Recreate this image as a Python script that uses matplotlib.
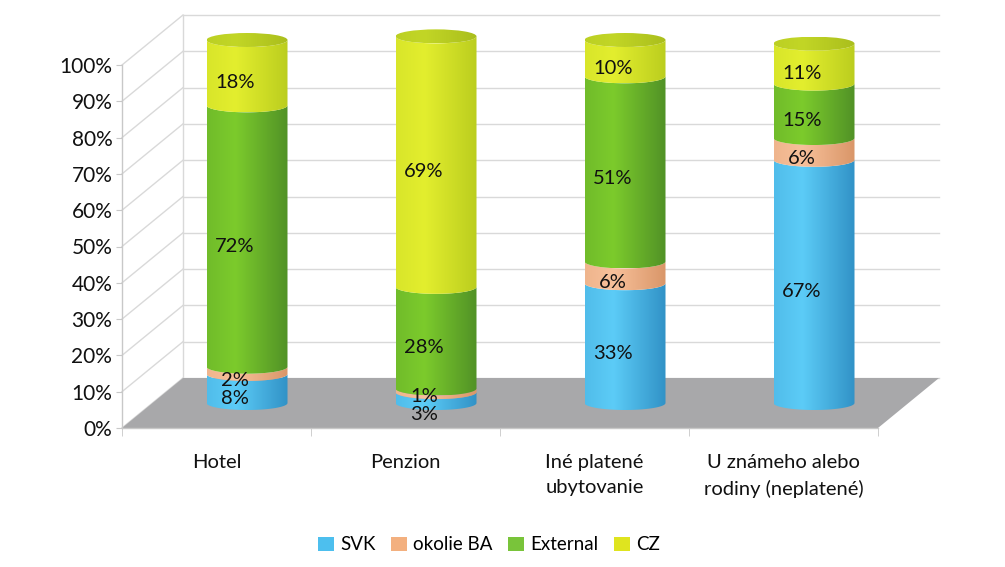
import numpy as np
import matplotlib
matplotlib.use("Agg")
import matplotlib.pyplot as plt
from matplotlib.patches import Polygon, Rectangle, Ellipse
from matplotlib.colors import to_rgb

plt.rcParams['font.family'] = ['Lato', 'DejaVu Sans']

categories = ["Hotel", "Penzion", "Iné platené\nubytovanie", "U známeho alebo\nrodiny (neplatené)"]
series_names = ["SVK", "okolie BA", "External", "CZ"]
svk = [8, 3, 33, 67]
okolie_ba = [2, 1, 6, 6]
external = [72, 28, 51, 15]
cz = [18, 69, 10, 11]
y_ticks = [0, 10, 20, 30, 40, 50, 60, 70, 80, 90, 100]
y_tick_labels = [f"{v}%" for v in y_ticks]

series = [svk, okolie_ba, external, cz]
# (light, dark) for gradient shading
colors = [("#5cccf7", "#2f8fc4"), ("#f7c09a", "#d89466"), ("#7ccb2c", "#4f8f26"), ("#e3ee2e", "#b9cc1e")]
cap_colors = [("#4fb7e6", "#3f9fd0"), ("#e7a77a", "#d0905f"), ("#6fb52a", "#5a9a22"), ("#c2d626", "#a9bd1c")]
legend_colors = ["#4dbfee", "#f3b07f", "#79c43a", "#dfe41f"]

# label vertical nudges (in %) to avoid overlap, as in the reference
label_nudge = {(1, 0): -2.0, (1, 1): 1.0}

W, H = 1005, 567
fig = plt.figure(figsize=(W / 100, H / 100), dpi=100)
ax = fig.add_axes([122 / W, 1 - 428 / H, 756 / W, 363 / H])
ax.set_xlim(0, 4)
ax.set_ylim(0, 100)

# depth offsets (in data units) for the back wall
DX, DY = 61 / 189, 50 / 3.63
grid_c = "#d9d9d9"

# back wall gridlines & side wall diagonals
for v in y_ticks:
    ax.plot([DX, 4 + DX], [v + DY, v + DY], color=grid_c, lw=1.0, clip_on=False, zorder=1)
    ax.plot([0, DX], [v, v + DY], color=grid_c, lw=1.0, clip_on=False, zorder=1)
ax.plot([DX, DX], [DY, 100 + DY], color=grid_c, lw=1.0, clip_on=False, zorder=1)

# floor
floor = Polygon([(0, 0), (4, 0), (4 + DX, DY), (DX, DY)], closed=True,
                facecolor="#a8a8aa", edgecolor="none", clip_on=False, zorder=2)
ax.add_patch(floor)

# front axis lines
ax.plot([0, 0], [0, 100], color="#c8c8c8", lw=1.0, clip_on=False, zorder=2)
ax.plot([0, 4], [0, 0], color="#c8c8c8", lw=1.0, clip_on=False, zorder=3)

# cylinders
R = 40.5 / 189          # half width in category units
E = 7.0 / 3.63          # ellipse half height in % units
CX, CY = 0.5 * DX, 0.5 * DY
theta = np.linspace(np.pi, 2 * np.pi, 60)


def grad_image(c1, c2):
    a = np.array(to_rgb(c1))
    b = np.array(to_rgb(c2))
    t = np.linspace(0, 1, 100)
    w = np.where(t < 0.35, 0.25 * (1 - t / 0.35), (t - 0.35) / 0.65 * 0.95)
    img = a[None, :] * (1 - w[:, None]) + b[None, :] * w[:, None]
    return img[None, :, :]


def shaded(patch, cols, x0, x1, y0, y1, z):
    ax.add_patch(patch)
    im = ax.imshow(grad_image(*cols), extent=[x0, x1, y0, y1], aspect="auto",
                   zorder=z, interpolation="bilinear", origin="lower")
    im.set_clip_path(patch)
    im.set_clip_box(fig.bbox)


for i in range(len(categories)):
    cx = i + 0.5 + CX
    base = 0.0
    for s, vals in enumerate(series):
        v = vals[i]
        b = base + CY
        t = base + v + CY
        xs_arc = cx + R * np.cos(theta)
        ys_top = t + E * np.sin(theta)
        ys_bot = b + E * np.sin(theta)
        pts = list(zip(xs_arc, ys_top)) + list(zip(xs_arc[::-1], ys_bot[::-1]))
        poly = Polygon(pts, closed=True, facecolor="none", edgecolor="none",
                       clip_on=False, zorder=4)
        shaded(poly, colors[s], cx - R, cx + R, b - E, t + E, 4)
        if s == len(series) - 1:
            cap = Ellipse((cx, t), 2 * R, 2 * E, facecolor="none",
                          edgecolor="none", clip_on=False, zorder=5)
            shaded(cap, cap_colors[s], cx - R, cx + R, t - E, t + E, 5)
        # label
        ly = base + v / 2 + 0.3 * DY + label_nudge.get((i, s), 0.0)
        lx = i + 0.5 + 0.3 * DX
        ax.text(lx, ly, f"{v}%", ha="center", va="center", fontsize=14.5,
                color="#111111", zorder=6, clip_on=False)
        base += v

ax.set_aspect("auto")
ax.set_xlim(0, 4)
ax.set_ylim(0, 100)

# ticks
ax.set_yticks(y_ticks)
ax.set_yticklabels(y_tick_labels, fontsize=15, color="#111111")
ax.set_xticks([0.5, 1.5, 2.5, 3.5])
ax.set_xticklabels(categories, fontsize=14.5, color="#111111", linespacing=1.55, va="top")
ax.set_xticks([0, 1, 2, 3, 4], minor=True)
ax.tick_params(axis="x", which="major", length=0, pad=19)
ax.tick_params(axis="x", which="minor", length=6, color="#c8c8c8", direction="out")
ax.tick_params(axis="y", length=4, color="#c8c8c8", pad=3)
for sp in ax.spines.values():
    sp.set_visible(False)
ax.set_facecolor("none")

handles = [Rectangle((0, 0), 1, 1, facecolor=c, edgecolor="none") for c in legend_colors]
fig.legend(handles, series_names, loc="center", bbox_to_anchor=(489 / W, 1 - 545 / H),
           ncol=4, frameon=False, fontsize=13.5, handlelength=0.85, handleheight=0.85,
           handletextpad=0.35, columnspacing=0.8)

fig.savefig("out.png", dpi=100)
